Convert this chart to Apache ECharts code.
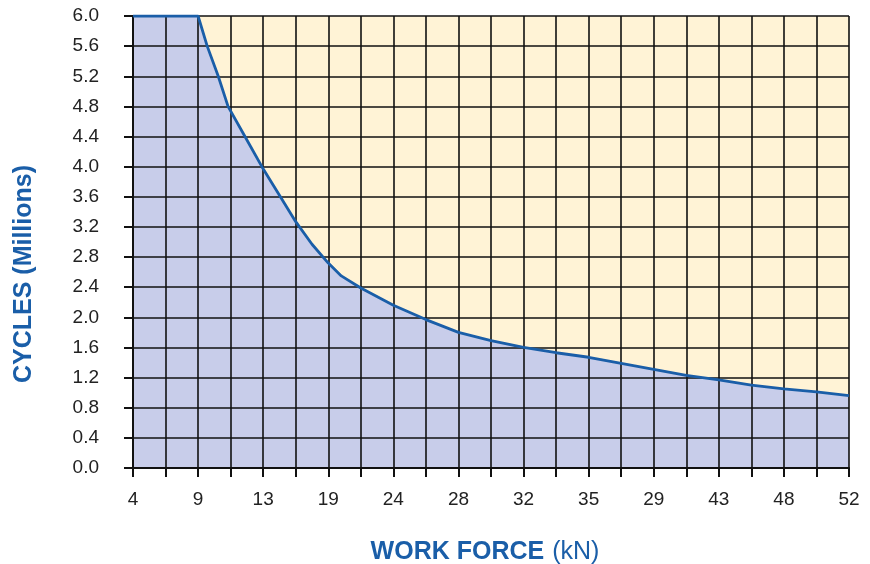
<!DOCTYPE html>
<html>
<head>
<meta charset="utf-8">
<script src="https://cdn.jsdelivr.net/npm/echarts@6/dist/echarts.min.js"></script>
<style>
  html, body { margin: 0; padding: 0; background: #ffffff; }
  #chart { width: 870px; height: 564px; }
</style>
</head>
<body>
<div id="chart"></div>
<script>
// x tick labels as printed on the original chart (one per grid column pair)
const forceLabels = ["4", "9", "13", "19", "24", "28", "32", "35", "29", "43", "48", "52"];
// curve position along the x axis (label index units) and cycles in millions
const forcePos = [0, 1, 1.14, 1.31, 1.46, 1.72, 1.98, 2.25, 2.5, 2.75, 3, 3.2, 3.5, 4, 4.5, 5, 5.5, 6, 6.5, 7, 7.5, 8, 8.5, 9, 9.5, 10, 10.5, 11];
const cycles = [6.0, 6.0, 5.6, 5.2, 4.8, 4.4, 4.0, 3.62, 3.27, 2.97, 2.72, 2.55, 2.39, 2.16, 1.97, 1.80, 1.69, 1.60, 1.53, 1.47, 1.39, 1.31, 1.23, 1.17, 1.10, 1.05, 1.01, 0.96];

const curve = forcePos.map((x, i) => [x, cycles[i]]);
const font = "Liberation Sans, Arial, sans-serif";

const chart = echarts.init(document.getElementById("chart"));
chart.setOption({
  animation: false,
  textStyle: { fontFamily: font },
  grid: {
    left: 133,
    right: 21,
    top: 16,
    bottom: 96,
    containLabel: false,
    outerBoundsMode: "none",
    show: true,
    backgroundColor: "#fff3d6",
    borderWidth: 0
  },
  xAxis: {
    type: "value",
    min: 0,
    max: 11,
    interval: 0.5,
    z: 3,
    name: "{b|WORK FORCE}{s| }{n|(kN)}",
    nameLocation: "middle",
    nameGap: 72,
    nameTextStyle: {
      padding: [0, 12, 0, 0],
      rich: {
        b: { fontSize: 25, fontWeight: "bold", color: "#1a5ea8", fontFamily: font },
        s: { fontSize: 25, width: 8 },
        n: { fontSize: 25, color: "#1a5ea8", fontFamily: font }
      }
    },
    axisLine: { show: true, lineStyle: { color: "#111", width: 2 } },
    axisTick: { show: true, length: 9, lineStyle: { color: "#111", width: 2 } },
    splitLine: { show: true, lineStyle: { color: "#111", width: 1.6 } },
    axisLabel: {
      margin: 22,
      fontSize: 19,
      color: "#222",
      showMinLabel: true,
      showMaxLabel: true,
      formatter: function (v) {
        const r = Math.round(v * 2) / 2;
        return Number.isInteger(r) ? forceLabels[r] : "";
      }
    }
  },
  yAxis: {
    type: "value",
    min: 0,
    max: 6,
    interval: 0.4,
    z: 3,
    name: "CYCLES (Millions)",
    nameLocation: "middle",
    nameGap: 96,
    nameRotate: 90,
    nameTextStyle: { fontSize: 25, fontWeight: "bold", color: "#1a5ea8", padding: [0, 64, 0, 0] },
    axisLine: { show: true, lineStyle: { color: "#111", width: 2 } },
    axisTick: { show: true, length: 9, lineStyle: { color: "#111", width: 2 } },
    splitLine: { show: true, lineStyle: { color: "#111", width: 1.6 } },
    axisLabel: {
      margin: 34,
      fontSize: 19,
      color: "#222",
      formatter: function (v) { return v.toFixed(1); }
    }
  },
  series: [
    {
      // fill under the curve, sits below the grid lines
      type: "line",
      data: curve,
      symbol: "none",
      lineStyle: { width: 0 },
      areaStyle: { color: "#c8cdea", opacity: 1, origin: "start" },
      z: 1
    },
    {
      // the curve itself, drawn over the grid
      type: "line",
      data: curve,
      symbol: "none",
      lineStyle: { color: "#1a5ea8", width: 2.8 },
      z: 5
    }
  ]
});
</script>
</body>
</html>
